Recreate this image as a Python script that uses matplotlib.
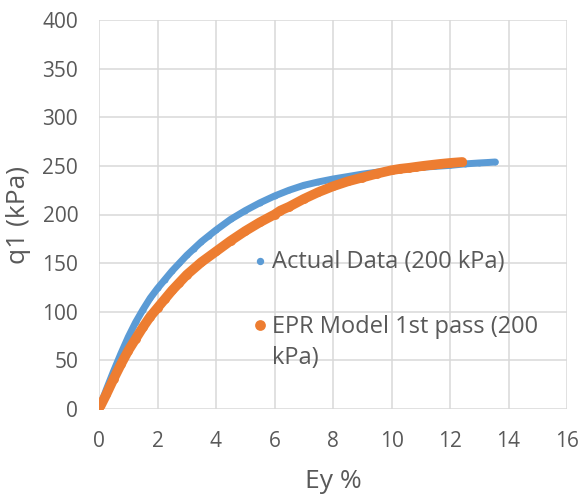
import matplotlib
matplotlib.use("Agg")
import matplotlib.pyplot as plt

plt.rcParams['font.family'] = ['Open Sans', 'DejaVu Sans']

# Actual Data (200 kPa)
actual_ey = [0.0, 0.25, 0.5, 0.75, 1.0, 1.25, 1.5, 1.75, 2.0, 2.25, 2.5, 2.75, 3.0,
             3.25, 3.5, 3.75, 4.0, 4.5, 5.0, 5.5, 6.0, 6.5, 7.0, 7.5, 8.0, 8.5,
             9.0, 9.5, 10.0, 10.5, 11.0, 11.5, 12.0, 12.5, 13.0, 13.3, 13.55]
actual_q1 = [0, 20, 39, 57, 74, 89, 102, 114, 124, 133, 142, 150, 158,
             165, 172, 178, 184, 195, 204, 212, 219, 225, 230, 233.5, 236.5, 239,
             241.5, 243.5, 245.5, 247, 248.5, 249.5, 250.5, 252, 253, 253.5, 254]

# EPR Model 1st pass (200 kPa)
epr_ey = [0.0, 0.25, 0.5, 0.75, 1.0, 1.25, 1.5, 1.75, 2.0, 2.25, 2.5, 2.75, 3.0,
          3.5, 4.0, 4.5, 5.0, 5.5, 6.0, 6.2, 6.5, 7.0, 7.5, 8.0, 8.5, 9.0, 9.5,
          10.0, 10.3, 10.6, 10.84, 11.09, 11.37, 11.66, 12.0, 12.42]
epr_q1 = [0, 15, 31, 46, 60, 72, 84, 95, 104, 113, 122, 130, 138,
          151, 162, 173, 183, 192, 200, 204, 208, 216, 223, 229, 234, 238, 242,
          245.5, 247, 248, 249, 250, 251, 252, 253, 254]

x_ticks = [0, 2, 4, 6, 8, 10, 12, 14, 16]
y_ticks = [0, 50, 100, 150, 200, 250, 300, 350, 400]

blue = '#5B9BD5'
orange = '#ED7D31'
txt = '#595959'
grid = '#D9D9D9'

fig = plt.figure(figsize=(5.82, 4.95), dpi=100)
ax = fig.add_axes([99/582, 1 - 409/495, 468/582, 389/495])

ax.plot(actual_ey, actual_q1, color=blue, lw=5, solid_capstyle='round',
        solid_joinstyle='round', zorder=3)
ax.scatter(actual_ey, actual_q1, s=18, color=blue, zorder=3,
           label='Actual Data (200 kPa)', linewidths=0)
ax.plot(epr_ey, epr_q1, color=orange, lw=7, solid_capstyle='round',
        solid_joinstyle='round', zorder=4)
ax.scatter(epr_ey, epr_q1, s=40, color=orange, zorder=4,
           label='EPR Model 1st pass (200\nkPa)', linewidths=0)

ax.set_xlim(0, 16)
ax.set_ylim(0, 400)
ax.set_xticks(x_ticks)
ax.set_yticks(y_ticks)
ax.tick_params(length=0, labelsize=15, colors=txt)
ax.tick_params(axis='x', pad=16)
ax.tick_params(axis='y', pad=15)
for s in ax.spines.values():
    s.set_visible(False)
ax.grid(True, color=grid, lw=1.1, zorder=0)
ax.set_axisbelow(True)

ax.set_xlabel('Ey %', fontsize=19, color=txt, labelpad=12)
ax.set_ylabel('q1 (kPa)', fontsize=19, color=txt, labelpad=8)

leg = ax.legend(loc='upper left', bbox_to_anchor=(0.2965, 0.438), frameon=False,
                fontsize=17, labelcolor=txt, handletextpad=0.05,
                labelspacing=1.7, borderpad=0, handlelength=0.9,
                scatterpoints=1)
leg.legend_handles[0].set_sizes([28])
leg.legend_handles[1].set_sizes([60])
leg.get_texts()[1].set_linespacing(1.4)
for col in leg._legend_handle_box.get_children():
    for row in col.get_children():
        row.align = 'top'

fig.savefig('out.png', dpi=100)
